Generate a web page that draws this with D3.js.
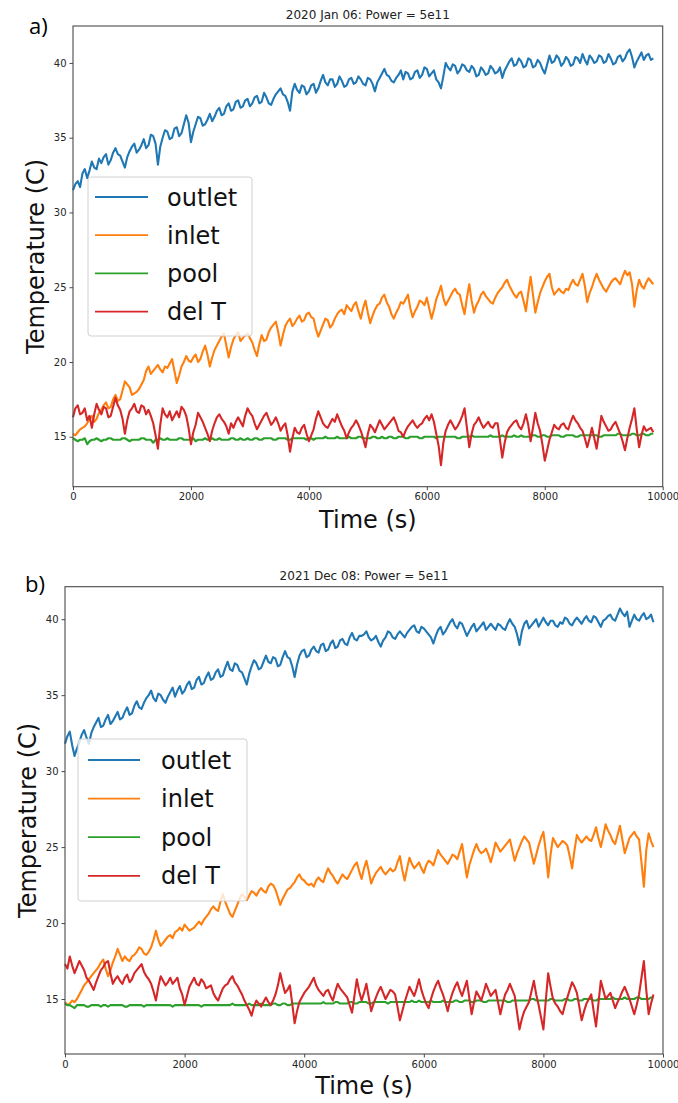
<!DOCTYPE html>
<html>
<head>
<meta charset="utf-8">
<script src="https://cdn.jsdelivr.net/npm/d3@7/dist/d3.min.js"></script>
<style>
  html, body { margin: 0; padding: 0; background: #fff; }
  svg { display: block; }
  text { font-family: "DejaVu Sans", sans-serif; }
</style>
</head>
<body>
<svg id="chart" width="678" height="1103"></svg>
<script>
// Sampling interval of the logged temperatures (s)
const sampleStep = 40;

const xTicks = [0, 2000, 4000, 6000, 8000, 10000];
const yTicks = [15, 20, 25, 30, 35, 40];
const seriesNames = ["outlet", "inlet", "pool", "del T"];
const panelTitles = ["2020 Jan 06: Power = 5e11", "2021 Dec 08: Power = 5e11"];
const panelTags = ["a)", "b)"];

// Run of 2020 Jan 06
const outletA = [
  31.5,31.9,32.1,31.7,32.6,32.9,32.3,32.8,33.4,33.0,32.9,33.6,33.3,33.7,33.9,33.2,33.5,34.0,34.3,33.9,
  33.8,33.4,33.0,33.7,34.1,34.4,34.6,34.0,34.2,34.5,34.9,34.3,34.5,35.2,35.1,34.6,33.2,34.4,35.0,35.5,
  35.4,34.9,35.0,35.6,35.7,35.1,35.3,35.9,36.5,36.0,34.7,35.4,35.9,36.4,36.3,35.8,35.9,36.2,36.6,36.1,
  36.4,36.8,37.0,36.5,36.6,37.1,37.3,36.8,36.9,37.4,37.5,37.0,37.1,37.5,37.6,37.1,37.3,37.7,37.8,37.3,
  37.4,38.0,37.7,37.3,37.2,37.6,37.9,38.1,38.3,37.9,37.8,37.4,36.8,38.1,38.6,38.2,38.0,38.5,38.4,37.9,
  38.1,38.5,38.6,38.0,38.3,38.8,39.2,38.7,38.5,38.9,38.9,38.4,38.6,39.1,38.8,38.4,38.5,38.9,39.0,38.6,
  38.7,39.1,38.9,38.6,38.5,39.0,38.9,38.6,38.1,38.7,39.0,39.3,39.6,39.2,39.1,38.8,38.7,39.0,39.2,39.5,
  38.9,39.4,39.3,38.9,39.0,39.4,39.5,39.0,39.2,39.7,39.6,39.1,39.3,39.5,38.9,38.7,38.3,39.1,40.0,39.7,
  39.5,39.9,39.8,39.3,39.5,39.9,39.8,39.5,39.4,39.8,39.6,39.1,39.2,39.7,39.5,39.2,39.3,39.8,39.6,39.3,
  39.4,39.7,39.0,39.5,39.8,40.1,40.3,39.8,39.9,40.3,40.1,39.7,39.8,40.3,40.2,39.7,39.8,40.2,40.0,39.6,
  39.3,39.9,40.5,40.0,40.1,40.5,40.3,39.8,40.0,40.4,40.2,39.8,39.9,40.4,40.3,40.0,40.6,40.2,39.9,40.5,
  40.3,40.0,40.1,40.5,40.4,40.0,40.1,40.6,40.3,39.9,40.0,40.4,40.5,40.1,40.3,40.7,40.9,40.4,39.7,40.1,
  40.4,40.7,40.2,40.5,40.6,40.2,40.3];
const inletA = [
  15.2,15.1,15.3,15.5,15.6,15.7,15.9,16.2,16.4,16.0,16.2,16.6,16.8,17.1,17.3,16.9,17.0,17.5,17.8,17.4,
  17.5,18.1,18.7,18.5,18.3,17.8,17.9,18.0,18.2,18.5,18.8,19.4,19.7,19.2,19.4,19.6,19.8,19.5,19.3,19.7,
  19.6,19.9,20.2,19.4,18.6,19.1,19.7,20.0,20.4,20.1,20.0,20.3,20.5,20.0,20.2,20.7,21.1,20.5,19.7,20.3,
  20.8,21.1,21.4,21.7,21.9,21.1,20.3,21.0,21.5,21.8,22.0,21.4,21.6,21.8,21.9,21.6,21.3,20.8,20.4,21.2,
  21.8,21.4,21.5,22.0,22.3,22.5,22.7,22.0,21.1,21.8,22.4,22.7,22.9,22.4,22.6,22.9,23.1,22.7,22.8,23.2,
  23.3,23.0,22.9,22.2,21.7,22.1,22.5,22.9,22.8,22.3,22.5,22.9,23.2,23.4,23.5,23.2,23.8,23.6,23.4,23.8,
  24.0,23.4,22.9,23.6,24.1,23.3,22.6,23.1,23.5,23.8,23.9,24.3,24.5,24.0,23.7,23.2,22.9,23.3,23.6,24.0,
  23.9,24.2,24.5,23.6,23.0,23.4,23.7,24.1,24.0,23.8,24.3,23.6,22.9,23.5,24.2,24.6,25.1,24.3,23.8,24.1,
  24.4,24.7,24.9,24.6,24.5,23.8,23.2,24.3,25.2,24.1,23.3,23.8,24.1,24.5,24.7,24.4,24.2,24.0,23.9,24.3,
  24.6,24.8,25.0,25.3,25.5,25.1,24.8,24.5,24.3,24.6,24.7,24.1,23.4,24.6,25.7,24.5,23.3,24.0,24.6,25.0,
  25.4,25.7,25.9,25.0,24.5,24.7,24.9,24.7,24.6,24.9,24.8,25.2,25.5,25.2,25.1,25.5,25.9,25.1,24.0,24.6,
  25.0,25.5,25.9,25.5,25.2,24.9,24.7,25.0,25.3,25.5,25.6,25.4,25.2,25.7,26.1,25.8,26.0,25.2,23.7,24.8,
  25.5,25.1,24.9,25.3,25.6,25.4,25.2];
const poolA = [
  14.9,14.8,14.7,14.8,14.8,14.9,14.5,14.7,14.8,14.8,14.9,14.8,14.7,14.8,14.8,14.9,14.9,14.8,14.8,14.8,
  14.8,14.9,14.9,14.8,14.7,14.8,14.8,14.8,14.8,14.9,14.9,14.8,14.8,14.8,14.6,14.8,14.8,14.9,14.8,14.8,
  14.9,14.8,14.8,14.8,14.8,14.9,14.9,14.8,14.8,14.8,14.8,14.9,14.7,14.8,14.8,14.8,14.9,14.8,14.8,14.9,
  14.8,14.8,14.9,14.8,14.8,14.8,14.8,14.9,14.9,14.8,14.8,14.9,14.8,14.8,14.9,14.8,14.8,14.9,14.9,14.8,
  14.8,14.9,14.9,14.9,14.9,14.8,14.8,14.9,14.9,14.9,14.9,14.8,14.8,14.9,14.9,14.9,14.9,14.9,14.9,14.8,
  14.9,14.9,14.8,14.9,14.9,14.9,14.9,15.0,14.9,14.9,14.9,14.9,15.0,14.9,14.9,14.9,14.9,15.0,14.9,14.9,
  14.9,15.0,15.0,14.9,14.9,14.9,14.9,15.0,15.0,14.9,14.9,15.0,14.9,14.9,15.0,15.0,14.9,14.9,15.0,15.0,
  15.0,14.9,14.9,15.0,15.0,15.0,15.0,14.9,14.9,15.0,15.0,15.0,15.0,15.0,14.9,15.0,15.0,15.0,15.0,15.0,
  15.0,15.0,15.0,14.9,14.9,15.0,15.0,15.0,15.0,15.1,15.0,15.0,15.0,15.0,15.0,15.0,15.0,15.1,15.0,15.0,
  15.0,15.0,15.1,15.0,15.0,15.0,15.0,15.1,15.0,15.0,15.1,15.0,15.0,15.0,15.0,15.1,15.1,15.0,15.0,15.1,
  15.1,15.0,15.0,15.1,15.1,15.1,15.1,15.0,15.0,15.1,15.1,15.1,15.1,15.0,15.0,15.1,15.1,15.1,15.1,15.1,
  15.1,15.1,15.1,15.0,15.0,15.1,15.1,15.1,15.1,15.1,15.1,15.2,15.2,15.1,15.1,15.1,15.1,15.2,15.2,15.1,
  15.1,15.2,15.2,15.1,15.1,15.2,15.2];
const delTA = [
  16.3,16.9,17.1,16.5,16.6,16.9,16.1,16.4,15.6,16.5,17.2,16.8,16.5,17.0,16.9,16.3,16.4,17.0,17.6,17.1,
  16.8,16.2,15.2,16.1,16.7,16.9,17.2,16.7,16.6,17.1,17.0,16.5,16.8,16.4,15.9,15.1,14.2,15.8,16.9,16.5,
  16.3,16.7,16.1,16.4,16.7,16.3,17.0,16.8,16.4,15.6,14.5,15.3,15.8,16.6,16.3,16.0,15.6,15.2,14.7,15.4,
  15.9,16.3,16.5,16.2,16.0,15.7,15.2,15.9,15.6,16.0,16.3,16.0,15.7,16.4,16.9,16.6,16.4,15.9,15.5,15.8,
  16.1,16.4,16.6,16.2,15.8,16.0,16.3,15.9,15.4,15.7,15.9,15.1,14.0,14.9,15.6,15.3,15.2,15.6,15.8,15.2,
  14.7,15.1,15.5,16.2,16.7,16.3,15.9,15.7,15.6,15.9,16.2,16.0,16.5,16.1,15.7,15.4,14.9,15.3,15.6,15.8,
  16.1,15.8,15.4,14.9,14.3,15.2,15.8,15.6,15.3,15.7,16.1,15.8,15.5,15.7,15.9,16.1,16.3,15.9,15.4,15.3,
  15.0,15.4,15.7,15.9,16.1,15.8,15.6,15.8,15.9,16.2,16.4,16.1,16.5,16.0,15.2,14.4,13.1,14.6,15.4,15.8,
  16.1,15.8,15.5,15.7,16.0,16.4,16.9,15.6,14.3,15.2,15.8,16.0,16.3,15.9,15.6,15.8,16.0,15.7,15.6,15.9,
  15.9,14.8,13.6,14.6,15.3,15.6,15.8,16.0,16.1,15.7,15.5,15.9,16.5,15.8,14.7,15.6,16.6,15.9,15.4,14.5,
  13.4,14.1,14.8,15.3,15.8,15.6,15.5,15.8,15.9,15.6,15.5,16.0,16.4,16.1,15.9,15.6,15.4,14.9,14.3,14.9,
  15.6,14.9,14.2,15.3,16.4,16.0,15.7,15.4,15.5,15.8,16.0,15.6,15.2,14.7,14.1,14.9,15.6,16.2,16.9,15.5,
  14.3,15.1,15.7,15.4,15.5,15.6,15.3];

// Run of 2021 Dec 08
const outletB = [
  31.8,32.3,32.6,31.7,31.0,31.5,31.9,32.4,32.7,32.2,31.8,32.5,32.9,33.2,33.5,32.9,33.0,33.4,33.7,33.1,
  33.3,33.6,33.9,33.4,33.5,33.9,34.2,33.7,33.8,34.3,34.6,34.2,34.1,34.5,34.8,35.0,35.3,34.8,34.6,35.1,
  35.0,34.7,34.5,34.9,35.2,35.5,34.9,35.3,35.6,35.1,35.3,35.7,35.9,35.4,35.5,36.0,36.2,35.7,35.8,36.2,
  36.5,36.0,36.1,36.5,36.7,36.2,36.3,36.8,37.2,36.7,36.6,37.1,37.0,36.6,36.5,36.1,35.7,36.4,36.9,37.3,
  37.1,36.7,36.8,37.2,37.6,37.2,37.1,37.5,37.4,36.9,37.0,37.5,37.9,37.5,37.4,36.9,36.2,37.0,37.6,37.9,
  38.0,37.5,37.6,38.0,38.2,37.9,37.8,38.3,38.4,37.9,38.0,38.4,38.6,38.1,38.2,38.6,38.7,38.4,38.3,38.8,
  39.1,38.7,38.6,38.9,38.9,39.0,39.2,38.8,38.6,38.7,38.9,38.5,38.2,38.6,38.8,39.2,39.1,38.8,38.7,39.0,
  39.2,39.0,38.8,39.1,39.3,39.5,39.6,39.2,39.1,39.5,39.4,39.2,39.0,38.8,38.4,38.9,39.3,39.5,39.0,39.2,
  39.5,39.8,40.0,39.6,39.4,39.8,39.7,39.3,38.9,39.2,39.5,39.7,39.2,39.4,39.6,39.8,39.3,39.5,39.7,39.5,
  39.3,39.7,39.6,39.4,39.3,39.7,40.0,39.7,39.5,39.0,38.3,39.2,39.7,39.9,39.4,39.6,39.8,40.0,39.5,39.8,
  40.1,39.8,39.6,39.9,39.9,39.6,39.5,39.8,39.7,40.1,40.0,39.7,39.6,39.9,40.1,39.9,39.7,40.0,40.2,39.9,
  39.8,40.2,40.1,39.8,39.5,39.9,40.0,40.2,40.3,40.0,39.9,40.3,40.7,40.4,40.2,40.5,39.5,39.9,40.3,40.0,
  39.9,40.2,40.4,40.0,40.1,40.3,39.8];
const inletB = [
  14.8,14.6,14.7,14.9,14.8,15.0,15.3,15.6,15.9,16.1,16.3,16.5,16.7,16.9,17.1,17.4,17.6,17.0,16.5,16.9,
  17.4,17.8,18.3,17.9,17.5,17.8,17.6,17.5,17.8,17.9,18.1,18.4,18.3,18.0,17.9,18.1,18.4,18.9,19.5,18.9,
  18.5,18.7,18.9,19.1,19.2,19.0,19.4,19.5,19.7,19.5,19.9,19.7,19.5,19.6,19.7,19.9,20.1,19.9,20.2,20.4,
  20.6,20.9,21.1,20.9,20.8,21.4,21.9,21.4,21.0,20.6,20.4,20.8,21.2,21.6,21.9,21.7,21.5,21.8,22.1,22.0,
  21.8,22.1,22.3,22.1,22.0,22.4,22.6,22.5,22.2,21.7,21.2,21.6,21.9,22.2,22.3,22.5,22.7,23.0,23.2,22.9,
  22.8,22.6,22.5,22.6,22.4,22.8,23.0,22.8,22.7,23.2,23.6,23.3,23.1,22.8,22.6,22.9,23.2,23.0,22.9,23.2,
  23.5,23.8,24.0,23.4,22.9,23.6,24.1,23.4,22.6,23.0,23.3,23.5,23.7,23.4,23.2,23.4,23.6,23.4,23.5,24.0,
  24.4,23.5,22.8,23.6,24.3,23.9,23.6,23.8,24.0,23.6,23.3,23.8,24.1,24.0,23.8,24.3,24.8,24.5,24.3,24.1,
  23.9,24.2,24.5,24.4,24.2,24.7,25.2,24.1,23.0,23.8,24.3,24.8,25.2,24.8,24.6,24.7,24.9,24.5,24.0,24.6,
  25.3,25.0,24.7,24.9,25.1,25.3,25.5,24.8,24.1,24.6,25.0,25.4,25.7,25.5,25.3,24.6,23.9,24.5,25.1,25.6,
  26.0,24.7,23.0,24.5,25.6,25.3,25.0,25.2,25.4,25.3,25.1,24.4,23.6,24.8,25.8,25.5,25.3,25.5,25.7,25.5,
  25.4,25.8,26.3,25.6,25.0,25.7,26.5,26.1,25.8,25.4,25.2,25.8,26.4,25.5,24.6,25.1,25.6,25.8,26.0,25.7,
  25.5,24.0,22.4,24.8,25.9,25.4,25.0];
const poolB = [
  14.7,14.6,14.6,14.5,14.4,14.6,14.6,14.6,14.6,14.5,14.5,14.6,14.6,14.6,14.6,14.5,14.6,14.6,14.5,14.6,
  14.6,14.6,14.6,14.6,14.6,14.5,14.5,14.6,14.6,14.6,14.6,14.6,14.6,14.5,14.6,14.6,14.6,14.6,14.6,14.6,
  14.6,14.6,14.6,14.6,14.6,14.5,14.6,14.6,14.6,14.6,14.6,14.6,14.6,14.6,14.6,14.6,14.6,14.5,14.6,14.6,
  14.6,14.6,14.6,14.6,14.6,14.6,14.6,14.6,14.6,14.6,14.7,14.6,14.6,14.6,14.6,14.6,14.6,14.7,14.6,14.6,
  14.6,14.6,14.7,14.6,14.6,14.6,14.6,14.7,14.7,14.6,14.6,14.7,14.7,14.6,14.6,14.7,14.7,14.7,14.7,14.7,
  14.7,14.7,14.7,14.7,14.7,14.7,14.7,14.7,14.8,14.7,14.7,14.7,14.7,14.8,14.8,14.7,14.7,14.7,14.7,14.8,
  14.8,14.7,14.7,14.8,14.8,14.8,14.8,14.7,14.7,14.8,14.8,14.8,14.8,14.8,14.8,14.7,14.8,14.8,14.8,14.8,
  14.8,14.8,14.8,14.8,14.8,14.9,14.8,14.8,14.9,14.8,14.8,14.8,14.8,14.9,14.8,14.8,14.8,14.8,14.9,14.8,
  14.8,14.8,14.8,14.9,14.9,14.8,14.8,14.9,14.9,14.9,14.8,14.8,14.9,14.9,14.9,14.8,14.8,14.9,14.9,14.9,
  14.9,14.9,14.9,14.9,14.9,14.8,14.8,14.9,14.9,14.9,14.9,14.9,14.9,14.9,14.9,15.0,15.0,14.9,14.9,14.9,
  14.9,14.9,14.9,15.0,15.0,14.9,14.9,14.9,14.9,15.0,15.0,14.9,14.9,15.0,15.0,14.9,14.9,15.0,15.0,15.0,
  15.0,14.9,14.9,15.0,15.0,15.0,15.0,15.0,15.0,15.1,15.0,15.0,15.0,15.0,15.1,15.0,15.0,15.0,15.0,15.1,
  15.1,15.0,15.0,15.0,15.0,15.1,15.1];
const delTB = [
  17.3,17.0,17.8,17.2,16.7,17.1,17.5,17.2,16.9,16.4,16.2,15.9,15.6,16.1,16.5,16.9,17.1,17.4,17.5,16.7,
  16.0,16.3,16.5,16.2,16.0,16.4,16.6,16.1,16.3,16.7,16.9,17.1,17.3,16.8,16.5,16.3,16.0,15.5,14.9,15.8,
  16.5,16.2,15.9,16.1,16.4,16.0,16.2,16.4,15.7,15.3,14.6,15.2,15.8,16.1,16.4,16.0,15.9,16.3,16.1,15.7,
  15.8,15.9,15.4,15.1,14.9,15.3,15.7,15.9,16.0,16.3,16.5,16.1,15.9,15.6,15.3,14.9,14.6,14.3,13.9,14.5,
  14.9,14.7,14.5,14.8,15.1,14.8,14.6,14.9,15.3,15.9,16.7,16.0,15.4,15.6,15.9,14.7,13.4,14.2,14.8,15.1,
  15.4,15.6,15.8,16.1,16.4,15.9,15.6,15.4,15.2,15.5,15.6,15.2,14.9,15.5,16.0,15.7,15.5,15.3,15.1,14.6,
  14.1,15.2,16.3,15.5,14.9,15.4,16.0,15.1,14.2,14.7,15.1,15.5,15.8,15.4,15.0,15.3,15.6,15.5,15.3,14.5,
  13.6,14.2,14.8,15.3,15.8,15.5,15.2,15.7,16.3,15.6,15.1,14.7,14.4,15.0,15.5,15.9,16.2,15.7,15.3,14.8,
  14.2,14.9,15.4,15.8,16.1,15.6,15.2,15.7,16.2,15.1,14.0,14.8,15.5,15.2,14.9,15.4,16.0,15.6,15.2,15.4,
  15.6,14.8,14.0,14.7,15.3,15.6,16.0,15.6,15.2,14.1,13.0,13.7,14.2,14.5,14.8,15.5,16.2,15.3,14.6,13.8,
  13.0,14.9,16.7,15.8,15.0,14.7,14.5,14.2,14.0,14.6,15.1,15.6,16.1,15.8,15.4,14.5,13.6,14.2,14.7,15.0,
  15.3,14.2,13.2,14.7,16.2,15.6,15.0,15.2,15.4,14.9,14.4,14.8,15.1,15.5,15.8,15.4,15.0,14.5,14.0,14.6,
  15.3,16.4,17.5,15.6,14.0,14.7,15.3];

// Matplotlib "tab10" colours for the four traces
const lineColors = ["#1f77b4", "#ff7f0e", "#2ca02c", "#d62728"];

// Panel geometry (pixels) and y-limits
const panels = [
  { series: [outletA, inletA, poolA, delTA], title: panelTitles[0], tag: panelTags[0],
    left: 73, right: 662.7, top: 26, bottom: 486.7, yMin: 11.66, yMax: 42.47,
    tagPos: [29, 34], titleY: 19, xLabelY: 528, yLabelX: 44,
    legend: { x: 88, y: 177, w: 164, h: 159, lineX0: 95, lineX1: 148, textX: 167, rowY0: 197, rowGap: 38.2 } },
  { series: [outletB, inletB, poolB, delTB], title: panelTitles[1], tag: panelTags[1],
    left: 65, right: 663, top: 586.7, bottom: 1054, yMin: 11.38, yMax: 42.14,
    tagPos: [25, 592], titleY: 580, xLabelY: 1094, yLabelX: 36,
    legend: { x: 78, y: 739, w: 169, h: 162, lineX0: 88, lineX1: 140, textX: 161, rowY0: 760, rowGap: 38.6 } }
];

const svg = d3.select("#chart");
svg.append("rect").attr("width", 678).attr("height", 1103).attr("fill", "#fff");

panels.forEach(p => {
  const g = svg.append("g");
  const x = d3.scaleLinear().domain([0, 10000]).range([p.left, p.right]);
  const y = d3.scaleLinear().domain([p.yMin, p.yMax]).range([p.bottom, p.top]);

  const line = d3.line()
    .x((d, i) => x(i * sampleStep))
    .y(d => y(d));

  // traces
  p.series.forEach((vals, k) => {
    g.append("path")
      .datum(vals)
      .attr("d", line)
      .attr("fill", "none")
      .attr("stroke", lineColors[k])
      .attr("stroke-width", 2.1)
      .attr("stroke-linejoin", "round");
  });

  // axes
  const xAxis = g.append("g")
    .attr("transform", `translate(0,${p.bottom})`)
    .call(d3.axisBottom(x).tickValues(xTicks).tickSize(3.5).tickPadding(3).tickFormat(d3.format("d")));
  const yAxis = g.append("g")
    .attr("transform", `translate(${p.left},0)`)
    .call(d3.axisLeft(y).tickValues(yTicks).tickSize(3.5).tickPadding(3).tickFormat(d3.format("d")));
  [xAxis, yAxis].forEach(a => {
    a.select(".domain").remove();
    a.selectAll("line").attr("stroke", "#333").attr("stroke-width", 0.9);
    a.selectAll("text").attr("font-size", 10).attr("fill", "#262626")
      .attr("font-family", "DejaVu Sans, sans-serif");
  });

  // frame
  g.append("rect")
    .attr("x", p.left).attr("y", p.top)
    .attr("width", p.right - p.left).attr("height", p.bottom - p.top)
    .attr("fill", "none").attr("stroke", "#4a4a4a").attr("stroke-width", 1.1);

  // titles and labels
  g.append("text")
    .attr("x", (p.left + p.right) / 2).attr("y", p.titleY)
    .attr("text-anchor", "middle").attr("font-size", 12).attr("fill", "#222")
    .text(p.title);
  g.append("text")
    .attr("x", (p.left + p.right) / 2).attr("y", p.xLabelY)
    .attr("text-anchor", "middle").attr("font-size", 24).attr("fill", "#111")
    .text("Time (s)");
  g.append("text")
    .attr("transform", `translate(${p.yLabelX},${(p.top + p.bottom) / 2}) rotate(-90)`)
    .attr("text-anchor", "middle").attr("font-size", 24).attr("fill", "#111")
    .text("Temperature (C)");
  g.append("text")
    .attr("x", p.tagPos[0]).attr("y", p.tagPos[1])
    .attr("font-size", 22).attr("fill", "#000")
    .style("font-family", "'Open Sans', sans-serif")
    .text(p.tag);

  // legend
  const L = p.legend;
  const lg = g.append("g");
  lg.append("rect")
    .attr("x", L.x).attr("y", L.y).attr("width", L.w).attr("height", L.h)
    .attr("rx", 3).attr("fill", "#fff").attr("fill-opacity", 0.8)
    .attr("stroke", "#d0d0d0").attr("stroke-width", 1);
  seriesNames.forEach((name, k) => {
    const ry = L.rowY0 + k * L.rowGap;
    lg.append("line")
      .attr("x1", L.lineX0).attr("x2", L.lineX1).attr("y1", ry).attr("y2", ry)
      .attr("stroke", lineColors[k]).attr("stroke-width", 1.8);
    lg.append("text")
      .attr("x", L.textX).attr("y", ry).attr("dy", "0.36em")
      .attr("font-size", 24).attr("fill", "#111")
      .text(name);
  });
});
</script>
</body>
</html>
